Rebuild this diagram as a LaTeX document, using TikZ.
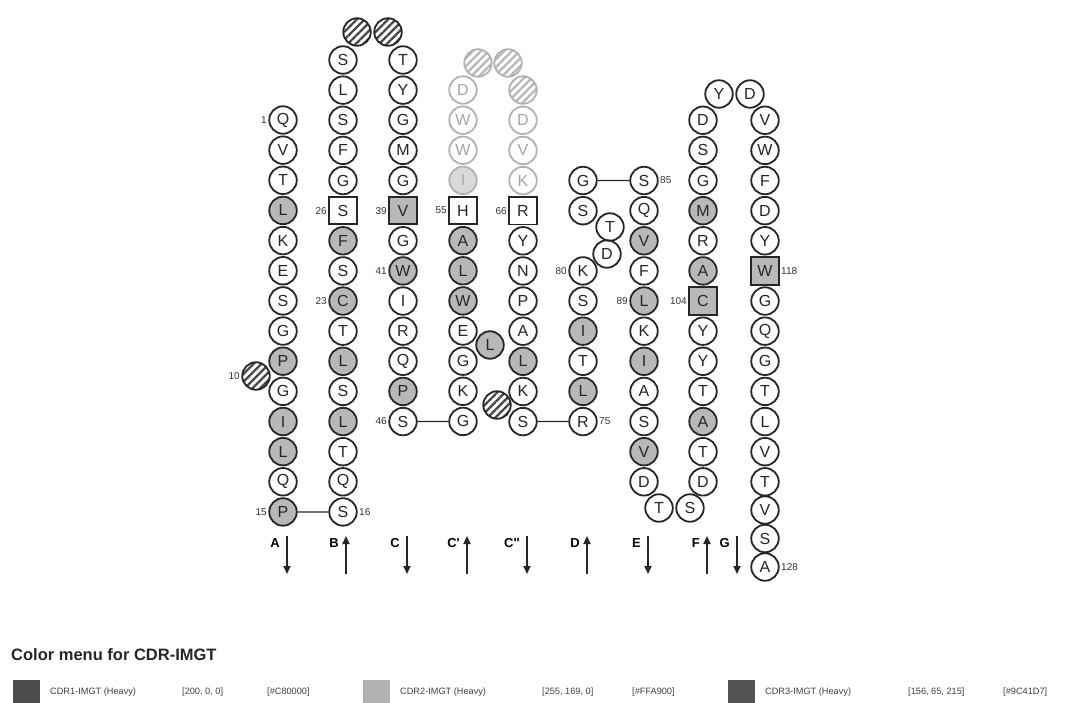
\documentclass[tikz,border=0pt]{standalone}
\usepackage{fontspec}
\newfontfamily\arial{Liberation Sans}
\usetikzlibrary{arrows.meta,patterns.meta}
\begin{document}
\begin{tikzpicture}[x=1pt,y=-1pt,
  res/.style={circle,draw=black!85,line width=1.8pt,minimum size=27.5pt,inner sep=0pt,font=\arial\fontsize{16}{16}\selectfont,text=black!85},
  pl/.style={},
  gy/.style={fill=black!28},
  sqw/.style={rectangle,minimum size=27.5pt},
  sqg/.style={rectangle,minimum size=27.5pt,fill=black!28},
  fd/.style={draw=black!30,text=black!35},
  fdg/.style={draw=black!30,text=black!35,fill=black!15},
  hat/.style={pattern={Lines[angle=45,distance=5.5pt,line width=2.3pt]},pattern color=black!72},
  fdhat/.style={draw=black!30,pattern={Lines[angle=45,distance=5.5pt,line width=2.3pt]},pattern color=black!28},
  num/.style={font=\arial\fontsize{10}{10}\selectfont,text=black!80,inner sep=0pt},
  link/.style={line width=1.3pt,draw=black!85},
  strand/.style={line width=1.8pt,draw=black!85,-{Triangle[length=8pt,width=7pt]}},
  slab/.style={font=\arial\bfseries\fontsize{13}{13}\selectfont,inner sep=0pt,anchor=east},
  leg/.style={font=\arial\fontsize{9.2}{9.2}\selectfont,text=black!75,anchor=west,inner sep=0pt},
  key/.style={minimum width=27pt,minimum height=27pt,inner sep=0pt,anchor=north west},
]
\useasboundingbox (0,0) rectangle (1070,703);
\fill[white] (0,0) rectangle (1070,703);

% hatched (gap) positions
\node[res,hat] (h1) at (357,32) {};
\node[res,hat] (h2) at (388,32) {};
\node[res,fdhat] (h3) at (478,63) {};
\node[res,fdhat] (h4) at (508,63) {};
\node[res,fdhat] (h5) at (523,90) {};
\node[res,hat] (h6) at (256,376) {};
\node[res,hat] (h7) at (497,405) {};

% strand A
\foreach \t/\s [count=\i from 0] in {Q/pl,V/pl,T/pl,L/gy,K/pl,E/pl,S/pl,G/pl,P/gy,G/pl,I/gy,L/gy,Q/pl,P/gy}
  \node[res,\s] (A\i) at (283,{120+30.15*\i}) {\t};
% strand B
\foreach \t/\s [count=\i from 0] in {S/pl,L/pl,S/pl,F/pl,G/pl,S/sqw,F/gy,S/pl,C/gy,T/pl,L/gy,S/pl,L/gy,T/pl,Q/pl,S/pl}
  \node[res,\s] (B\i) at (343,{60+30.13*\i}) {\t};
% strand C
\foreach \t/\s [count=\i from 0] in {T/pl,Y/pl,G/pl,M/pl,G/pl,V/sqg,G/pl,W/gy,I/pl,R/pl,Q/pl,P/gy,S/pl}
  \node[res,\s] (C\i) at (403,{60+30.13*\i}) {\t};
% strand C'
\foreach \t/\s [count=\i from 0] in {D/fd,W/fd,W/fd,I/fdg,H/sqw,A/gy,L/gy,W/gy,E/pl,G/pl,K/pl,G/pl}
  \node[res,\s] (Cp\i) at (463,{90+30.13*\i}) {\t};
% strand C''
\foreach \t/\s [count=\i from 0] in {D/fd,V/fd,K/fd,R/sqw,Y/pl,N/pl,P/pl,A/pl,L/gy,K/pl,S/pl}
  \node[res,\s] (Cpp\i) at (523,{120.3+30.13*\i}) {\t};
\node[res,gy] (xL) at (490,345) {L};
% strand D
\node[res] (D0) at (583,180.5) {G};
\node[res] (D1) at (583,210.7) {S};
\node[res] (D2) at (610,227) {T};
\node[res] (D3) at (607,254) {D};
\foreach \t/\s [count=\i from 4] in {K/pl,S/pl,I/gy,T/pl,L/gy,R/pl}
  \node[res,\s] (D\i) at (583,{60+30.13*(\i+3)}) {\t};
% strand E
\foreach \t/\s [count=\i from 0] in {S/pl,Q/pl,V/gy,F/pl,L/gy,K/pl,I/gy,A/pl,S/pl,V/gy,D/pl}
  \node[res,\s] (E\i) at (644,{60+30.13*(\i+4)}) {\t};
\node[res] (EF0) at (659,508) {T};
\node[res] (EF1) at (690,508) {S};
% strand F
\foreach \t/\s [count=\i from 0] in {D/pl,S/pl,G/pl,M/gy,R/pl,A/gy,C/sqg,Y/pl,Y/pl,T/pl,A/gy,T/pl,D/pl}
  \node[res,\s] (F\i) at (703,{60+30.13*(\i+2)}) {\t};
\node[res] (FG0) at (719,94) {Y};
\node[res] (FG1) at (750,94) {D};
% strand G
\foreach \t/\s [count=\i from 0] in {V/pl,W/pl,F/pl,D/pl,Y/pl,W/sqg,G/pl,Q/pl,G/pl,T/pl,L/pl,V/pl,T/pl}
  \node[res,\s] (G\i) at (765,{60+30.13*(\i+2)}) {\t};
\node[res] (G13) at (765,510) {V};
\node[res] (G14) at (765,538.5) {S};
\node[res] (G15) at (765,567) {A};

% links
\draw[link] (A13) -- (B15);
\draw[link] (C12) -- (Cp11);
\draw[link] (Cpp10) -- (D9);
\draw[link] (D0) -- (E0);

% numbering
\node[num,anchor=east] (n1) at (267,120) {1};
\node[num,anchor=east] (n10) at (240,376) {10};
\node[num,anchor=east] (n15) at (267,512) {15};
\node[num,anchor=west] (n16) at (359,512) {16};
\node[num,anchor=east] (n26) at (327,210.7) {26};
\node[num,anchor=east] (n23) at (327,301) {23};
\node[num,anchor=east] (n39) at (387,210.7) {39};
\node[num,anchor=east] (n41) at (387,271) {41};
\node[num,anchor=east] (n46) at (387,421.5) {46};
\node[num,anchor=east] (n55) at (447,210.5) {55};
\node[num,anchor=east] (n66) at (507,210.7) {66};
\node[num,anchor=west] (n75) at (599,421.5) {75};
\node[num,anchor=east] (n80) at (567,271) {80};
\node[num,anchor=west] (n85) at (660,180.5) {85};
\node[num,anchor=east] (n89) at (628,301) {89};
\node[num,anchor=east] (n104) at (687,301) {104};
\node[num,anchor=west] (n118) at (781,271) {118};
\node[num,anchor=west] (n128) at (781,567) {128};

% strand arrows
\foreach \n/\x/\d/\l in {sA/287/0/A,sB/346/1/B,sC/407/0/C,sCp/467/1/C\textquotesingle,sCpp/527/0/C\textquotesingle\textquotesingle,sD/587/1/D,sE/648/0/E,sF/707/1/F,sG/737/0/G}{
  \coordinate (\n t) at (\x,536);
  \coordinate (\n b) at (\x,574);
  \ifnum\d=0 \draw[strand] (\n t) -- (\n b); \else \draw[strand] (\n b) -- (\n t); \fi
  \node[slab] (\n l) at ({\x-7},543) {\l};
}

% legend
\begin{scope}
\clip (0,0) rectangle (1070,703);
\node[anchor=west,font=\arial\bfseries\fontsize{16.5}{16.5}\selectfont,inner sep=0pt,text=black!85] (title) at (11,655) {Color menu for CDR-IMGT};
\node[key,fill=black!70] (k1) at (13,680) {};
\node[leg] (k1a) at (50,692) {CDR1-IMGT (Heavy)};
\node[leg] (k1b) at (182,692) {[200, 0, 0]};
\node[leg] (k1c) at (267,692) {[\#C80000]};
\node[key,fill=black!30] (k2) at (363,680) {};
\node[leg] (k2a) at (400,692) {CDR2-IMGT (Heavy)};
\node[leg] (k2b) at (542,692) {[255, 169, 0]};
\node[leg] (k2c) at (632,692) {[\#FFA900]};
\node[key,fill=black!67] (k3) at (728,680) {};
\node[leg] (k3a) at (765,692) {CDR3-IMGT (Heavy)};
\node[leg] (k3b) at (908,692) {[156, 65, 215]};
\node[leg] (k3c) at (1003,692) {[\#9C41D7]};
\end{scope}
\end{tikzpicture}
\end{document}
